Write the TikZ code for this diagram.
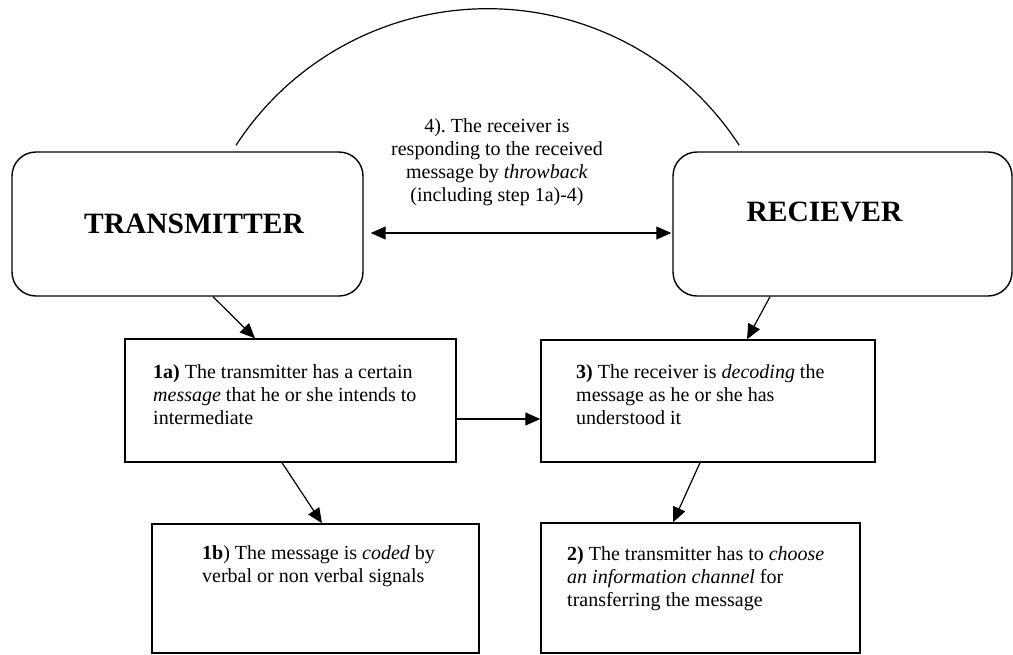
\documentclass[tikz,border=0pt]{standalone}
\usepackage{fontspec}
\setmainfont{Liberation Serif}
\usetikzlibrary{arrows.meta}
\frenchspacing

\begin{document}
\begin{tikzpicture}[x=1pt,y=-1pt,
  bigbox/.style={draw,line width=1.4pt,rounded corners=24pt,inner sep=0pt},
  stepbox/.style={draw,line width=1.4pt,inner sep=0pt},
  bigtext/.style={font=\fontsize{29.5}{34}\selectfont\bfseries,inner sep=0pt,anchor=base},
  steptext/.style={font=\fontsize{20}{23.3}\selectfont,inner sep=0pt,align=left,anchor=north west},
  link/.style={line width=1.2pt,-{Triangle[length=15pt,width=13pt]}}]
\useasboundingbox (0,0) rectangle (1013,654);
% the two parties
\node[bigbox,minimum width=351pt,minimum height=144pt] (trans) at (187.5,224) {};
\node[bigbox,minimum width=339pt,minimum height=144pt] (recv) at (842.5,224) {};
\node[bigtext] (ttrans) at (194,233) {TRANSMITTER};
\node[bigtext] (trecv) at (824.5,221) {RECIEVER};
% the four steps
\node[stepbox,minimum width=331pt,minimum height=123pt] (n1a) at (290.5,400.5) {};
\node[stepbox,minimum width=334pt,minimum height=122pt] (n3) at (708,401) {};
\node[stepbox,minimum width=327pt,minimum height=129pt] (n1b) at (315.5,588.5) {};
\node[stepbox,minimum width=319pt,minimum height=130pt] (n2) at (700.5,588) {};
\node[steptext] (t1a) at (153,364) {\textbf{1a)} The transmitter has a certain\\
  \textit{message} that he or she intends to\\ intermediate};
\node[steptext] (t3) at (576,364) {\textbf{3)} The receiver is \textit{decoding} the\\
  message as he or she has\\ understood it};
\node[steptext] (t1b) at (202,545.5) {\textbf{1b}) The message is \textit{coded} by\\
  verbal or non verbal signals};
\node[steptext] (t2) at (567,546) {\textbf{2)} The transmitter has to \textit{choose}\\
  \textit{an information channel} for\\ transferring the message};
% throwback
\node[steptext,anchor=north,align=center] (t4) at (497,118) {4). The receiver is\\
  responding to the received\\ message by \textit{throwback}\\ (including step 1a)-4)};
\draw[line width=1.2pt] ([shift={(48.5,-6)}]trans.north) arc[start angle=-147,end angle=-33,radius=300];
\draw[link,{Triangle[length=15pt,width=13pt]}-{Triangle[length=15pt,width=13pt]}]
  ([shift={(7,9)}]trans.east) -- ([shift={(-1,9)}]recv.west);
% arrows
\draw[link] ([shift={(25.5,0)}]trans.south) -- ([shift={(-35.5,0)}]n1a.north);
\draw[link] ([shift={(-72.5,0)}]recv.south) -- ([shift={(39,0)}]n3.north);
\draw[link] ([shift={(0,18.5)}]n1a.east) -- ([shift={(0,18)}]n3.west);
\draw[link] ([shift={(-8.5,0)}]n1a.south) -- ([shift={(6.5,0)}]n1b.north);
\draw[link] ([shift={(-8,0)}]n3.south) -- ([shift={(-27.5,0)}]n2.north);
\end{tikzpicture}
\end{document}
